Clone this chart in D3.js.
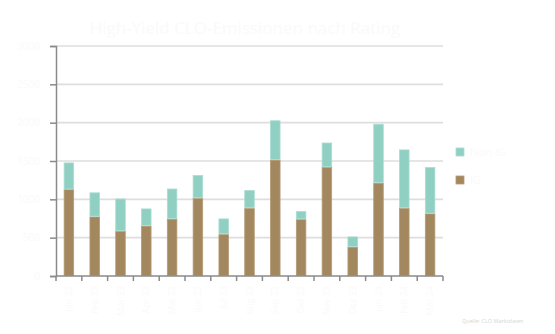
<!DOCTYPE html>
<html>
<head>
<meta charset="utf-8">
<script src="https://cdn.jsdelivr.net/npm/d3@7"></script>
<style>
  html, body { margin: 0; padding: 0; background: #fff; }
  svg { display: block; font-family: "Open Sans", "DejaVu Sans", sans-serif; }
</style>
</head>
<body>
<svg id="chart" width="555" height="334"></svg>
<script>
// Monthly CLO issuance, split by rating bucket
const months = ["Jan 23", "Feb 23", "Mär 23", "Apr 23", "Mai 23", "Jun 23", "Jul 23", "Aug 23",
                "Sep 23", "Okt 23", "Nov 23", "Dez 23", "Jan 24", "Feb 24", "Mär 24"];
const igValues    = [1130, 775, 585, 655, 745, 1015, 545, 885, 1515, 740, 1420, 380, 1215, 885, 815];
const nonIgValues = [350, 315, 425, 225, 395, 300, 205, 235, 515, 105, 320, 135, 770, 765, 605];
const yTicks = [0, 500, 1000, 1500, 2000, 2500, 3000];
const seriesNames = ["Non-IG", "IG"];
const titleText = "High-Yield CLO-Emissionen nach Rating";
const sourceText = "Quelle: CLO Marktdaten";

const svg = d3.select("#chart");
const faint = "#fafafa";
const colors = { "IG": "#a3885f", "Non-IG": "#8fd0c2" };
const strokes = { "IG": "#b49a74", "Non-IG": "#a9ddd2" };

const plotLeft = 56, plotRight = 443, plotTop = 46, plotBottom = 276;

const x = d3.scaleBand().domain(months).range([plotLeft, plotRight])
  .paddingInner(0.6).paddingOuter(0.3);
const y = d3.scaleLinear().domain([0, 3000]).range([plotBottom, plotTop]);

// Title
svg.append("text").attr("x", 245).attr("y", 34).attr("text-anchor", "middle")
  .attr("font-size", 17).attr("fill", faint).text(titleText);

// Horizontal grid
svg.append("g").selectAll("line").data(yTicks.filter(d => d > 0)).join("line")
  .attr("x1", plotLeft).attr("x2", plotRight)
  .attr("y1", d => y(d)).attr("y2", d => y(d))
  .attr("stroke", "#dedede").attr("stroke-width", 1.6);

// Stacked bars
const rows = months.map((m, i) => ({ month: m, "IG": igValues[i], "Non-IG": nonIgValues[i] }));
const stack = d3.stack().keys(["IG", "Non-IG"])(rows);
svg.append("g").selectAll("g").data(stack).join("g")
  .attr("fill", d => colors[d.key]).attr("stroke", d => strokes[d.key]).attr("stroke-width", 0.8)
  .selectAll("rect").data(d => d).join("rect")
  .attr("x", d => x(d.data.month) + 0.4)
  .attr("width", x.bandwidth() - 0.8)
  .attr("y", d => y(d[1]) + 0.4)
  .attr("height", d => Math.max(0, y(d[0]) - y(d[1]) - 0.8));

// Y axis
const yAxis = svg.append("g").attr("transform", `translate(${plotLeft},0)`)
  .call(d3.axisLeft(y).tickValues(yTicks).tickFormat(d3.format("d")).tickSize(6).tickPadding(10));
yAxis.select(".domain").attr("stroke", "#8a8a8a").attr("stroke-width", 1.5);
yAxis.selectAll(".tick line").attr("stroke", "#8a8a8a").attr("stroke-width", 1.5);
yAxis.selectAll(".tick text").attr("fill", faint).attr("font-size", 10)
  .attr("font-family", "'Open Sans', sans-serif");

// X axis: ticks on the band boundaries, labels rotated under each bar
const step = x.step();
const edges = d3.range(months.length + 1).map(i => plotLeft + i * step);
const xg = svg.append("g");
xg.append("line").attr("x1", plotLeft).attr("x2", plotRight).attr("y1", plotBottom).attr("y2", plotBottom)
  .attr("stroke", "#8a8a8a").attr("stroke-width", 1.5);
xg.selectAll("line.tick").data(edges).join("line").attr("class", "tick")
  .attr("x1", d => d).attr("x2", d => d).attr("y1", plotBottom).attr("y2", plotBottom + 5)
  .attr("stroke", "#8a8a8a").attr("stroke-width", 1.5);
xg.selectAll("text").data(months).join("text")
  .attr("transform", d => `translate(${x(d) + x.bandwidth() / 2 + 3},${plotBottom + 10}) rotate(-90)`)
  .attr("text-anchor", "end").attr("font-size", 9).attr("fill", faint).text(d => d);

// Legend
const legend = svg.append("g").selectAll("g").data(seriesNames).join("g")
  .attr("transform", (d, i) => `translate(456,${148 + i * 28})`);
legend.append("rect").attr("width", 8).attr("height", 8)
  .attr("fill", d => colors[d]).attr("stroke", d => strokes[d]).attr("stroke-width", 0.8);
legend.append("text").attr("x", 14).attr("y", 8).attr("font-size", 11)
  .attr("fill", faint).text(d => d);

// Source note
svg.append("text").attr("x", 462).attr("y", 323).attr("font-size", 5.5)
  .attr("fill", "#d6d6d6").text(sourceText);
</script>
</body>
</html>
